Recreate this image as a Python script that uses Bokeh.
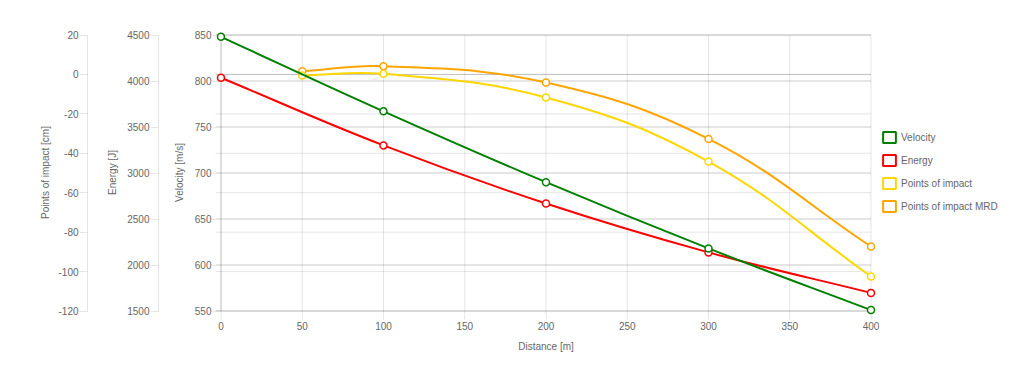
import math
from bokeh.plotting import figure
from bokeh.models import (Range1d, LinearAxis, FixedTicker, Title, Legend, LegendItem)
from bokeh.embed import file_html
from bokeh.resources import INLINE

# ---------------- data ----------------
distance_ticks = [0, 50, 100, 150, 200, 250, 300, 350, 400]
velocity_ticks = [550, 600, 650, 700, 750, 800, 850]
energy_ticks = [1500, 2000, 2500, 3000, 3500, 4000, 4500]
poi_ticks = [-120, -100, -80, -60, -40, -20, 0, 20]

dist_main = [0, 100, 200, 300, 400]
velocity = [848, 767, 690, 618, 551]
energy = [4035, 3300, 2668, 2137, 1697]

dist_poi = [50, 100, 200, 300, 400]
poi = [-0.5, 0.3, -11.7, -44.2, -102.5]
poi_mrd = [1.6, 4.2, -4.1, -32.7, -87.3]

series_names = ["Velocity", "Energy", "Points of impact", "Points of impact MRD"]
series_colors = ["green", "red", "gold", "orange"]

FONT = "Liberation Sans"
TXT = "#666666"

X_MIN, X_MAX = 0, 400
V_MIN, V_MAX = 550, 850
E_MIN, E_MAX = 1500, 4500
P_MIN, P_MAX = -120, 20

# data area in pixels and the extra room around it (edge markers unclipped,
# legend drawn inside the extended frame on the right)
FRAME_W, FRAME_H = 650, 276
PAD_L, PAD_R, PAD_T, PAD_B = 5.5, 143.5, 5.5, 4.5
BORDER_L = 215


def padded(lo, hi, span_px, pad_lo, pad_hi):
    k = (hi - lo) / span_px
    return lo - pad_lo * k, hi + pad_hi * k


X_LO, X_HI = padded(X_MIN, X_MAX, FRAME_W, PAD_L, PAD_R)
V_LO, V_HI = padded(V_MIN, V_MAX, FRAME_H, PAD_B, PAD_T)
E_LO, E_HI = padded(E_MIN, E_MAX, FRAME_H, PAD_B, PAD_T)
P_LO, P_HI = padded(P_MIN, P_MAX, FRAME_H, PAD_B, PAD_T)


def spline(xs, ys, ymin, ymax, t=0.4):
    """Chart.js style spline control points (computed in pixel-like space)."""
    kx = FRAME_W / (X_MAX - X_MIN)
    ky = FRAME_H / (ymax - ymin)
    px = [(x - X_MIN) * kx for x in xs]
    py = [(y - ymin) * ky for y in ys]
    n = len(px)
    cprev, cnext = [], []
    for i in range(n):
        a = i - 1 if i > 0 else i
        b = i + 1 if i < n - 1 else i
        d01 = math.hypot(px[i] - px[a], py[i] - py[a])
        d12 = math.hypot(px[b] - px[i], py[b] - py[i])
        tot = d01 + d12
        s01 = d01 / tot if tot else 0
        s12 = d12 / tot if tot else 0
        fa, fb = t * s01, t * s12
        cprev.append((px[i] - fa * (px[b] - px[a]), py[i] - fa * (py[b] - py[a])))
        cnext.append((px[i] + fb * (px[b] - px[a]), py[i] + fb * (py[b] - py[a])))
    inv = lambda q: (q[0] / kx + X_MIN, q[1] / ky + ymin)
    seg = dict(x0=[], y0=[], x1=[], y1=[], cx0=[], cy0=[], cx1=[], cy1=[])
    for i in range(n - 1):
        seg["x0"].append(xs[i]); seg["y0"].append(ys[i])
        seg["x1"].append(xs[i + 1]); seg["y1"].append(ys[i + 1])
        c0 = inv(cnext[i]); c1 = inv(cprev[i + 1])
        seg["cx0"].append(c0[0]); seg["cy0"].append(c0[1])
        seg["cx1"].append(c1[0]); seg["cy1"].append(c1[1])
    return seg


p = figure(width=1024, height=376, x_range=Range1d(X_LO, X_HI),
           y_range=Range1d(V_LO, V_HI), output_backend="svg",
           toolbar_location=None, min_border_left=BORDER_L, min_border_right=10,
           min_border_top=29, min_border_bottom=61)
p.outline_line_color = None
p.background_fill_color = "white"
p.border_fill_color = "white"
p.extra_y_ranges = {"energy": Range1d(E_LO, E_HI), "poi": Range1d(P_LO, P_HI)}
p.xgrid.visible = False
p.ygrid.visible = False


def style_axis(ax, line_alpha, tick_out=8):
    ax.axis_line_color = "black" if line_alpha else None
    ax.axis_line_alpha = line_alpha or 1
    ax.major_tick_line_color = "black"
    ax.major_tick_line_alpha = 0.1
    ax.major_tick_out = tick_out
    ax.major_tick_in = 0
    ax.minor_tick_line_color = None
    ax.major_label_text_font = FONT
    ax.major_label_text_font_size = "10px"
    ax.major_label_text_color = TXT
    ax.major_label_standoff = 1


# x axis
xax = p.xaxis[0]
xax.ticker = FixedTicker(ticks=distance_ticks)
style_axis(xax, 0, tick_out=4)
xax.bounds = (X_MIN, X_MAX)
xax.major_label_standoff = 2

# velocity axis
yax = p.yaxis[0]
yax.ticker = FixedTicker(ticks=velocity_ticks)
style_axis(yax, 0, tick_out=3)

# grid lines (one set per axis, translucent so coinciding lines darken)
GRID = dict(line_color="black", line_alpha=0.1, line_width=1)
p.segment(x0=distance_ticks, x1=distance_ticks, y0=[V_LO] * len(distance_ticks),
          y1=[V_MAX] * len(distance_ticks), **GRID)
p.segment(x0=[X_LO] * len(velocity_ticks), x1=[X_MAX] * len(velocity_ticks),
          y0=velocity_ticks, y1=velocity_ticks, **GRID)
p.segment(x0=[X_LO] * len(energy_ticks), x1=[X_MAX] * len(energy_ticks),
          y0=energy_ticks, y1=energy_ticks, y_range_name="energy", **GRID)
p.segment(x0=[X_LO] * len(poi_ticks), x1=[X_MAX] * len(poi_ticks),
          y0=poi_ticks, y1=poi_ticks, y_range_name="poi", **GRID)
# zero lines
p.segment(x0=[X_LO], x1=[X_MAX], y0=[0], y1=[0], y_range_name="poi",
          line_color="black", line_alpha=0.17, line_width=1)
p.segment(x0=[X_MIN], x1=[X_MIN], y0=[V_MIN], y1=[V_MAX],
          line_color="black", line_alpha=0.17, line_width=1)


def make_title(text, standoff, size="10px", **kw):
    opts = dict(align="center", vertical_align="bottom")
    opts.update(kw)
    return Title(text=text, standoff=standoff, text_font=FONT, text_font_size=size,
                 text_font_style="normal", text_color=TXT, **opts)


# x-axis title, centred under the 0..400 span of the data area
X_TITLE = "Distance [m]"
x_title_width = 55.6  # approx. width of the title text at 10px
x_center_px = PAD_L + FRAME_W / 2
p.add_layout(make_title(X_TITLE, 16, align="left", vertical_align="top",
                        offset=x_center_px - x_title_width / 2), "below")

p.add_layout(make_title("Velocity [m/s]", 13), "left")
p.add_layout(make_title(" ", 4, "1px"), "left")

eax = LinearAxis(y_range_name="energy", ticker=FixedTicker(ticks=energy_ticks))
style_axis(eax, 0.1)
eax.bounds = (E_MIN, E_MAX)
p.add_layout(eax, "left")
p.add_layout(make_title("Energy [J]", 14), "left")
p.add_layout(make_title(" ", 7, "1px"), "left")

pax = LinearAxis(y_range_name="poi", ticker=FixedTicker(ticks=poi_ticks))
style_axis(pax, 0.1)
pax.bounds = (P_MIN, P_MAX)
pax.major_label_overrides = {t: str(t) for t in poi_ticks}
p.add_layout(pax, "left")
p.add_layout(make_title("Points of impact [cm]", 9), "left")

# series (drawn bottom to top: MRD, impact, energy, velocity)
layers = [
    (dist_poi, poi_mrd, P_MIN, P_MAX, "poi", series_colors[3]),
    (dist_poi, poi, P_MIN, P_MAX, "poi", series_colors[2]),
    (dist_main, energy, E_MIN, E_MAX, "energy", series_colors[1]),
    (dist_main, velocity, V_MIN, V_MAX, "default", series_colors[0]),
]
for xs, ys, lo, hi, rn, col in layers:
    seg = spline(xs, ys, lo, hi)
    p.bezier(line_color=col, line_width=2, y_range_name=rn, **seg)
    p.scatter(xs, ys, marker="circle", size=7, fill_color="white", line_color=col,
              line_width=1.5, y_range_name=rn)

# legend with box swatches (swatch glyphs sit far outside the visible ranges)
items = []
for name, col in zip(series_names, series_colors):
    r = p.quad(left=[-1e6], right=[-1e6 + 1], top=[-1e6], bottom=[-1e6 - 1],
               fill_color="white", line_color=col, line_width=2)
    items.append(LegendItem(label=name, renderers=[r]))

legend = Legend(items=items, location=(666, 102), orientation="vertical",
                glyph_width=16, glyph_height=14, label_height=14, spacing=9,
                padding=0, margin=0, border_line_color=None, background_fill_alpha=0,
                label_text_font=FONT, label_text_font_size="10px",
                label_text_color=TXT, label_standoff=4)
p.add_layout(legend)

open("out.html", "w").write(file_html(p, INLINE))
